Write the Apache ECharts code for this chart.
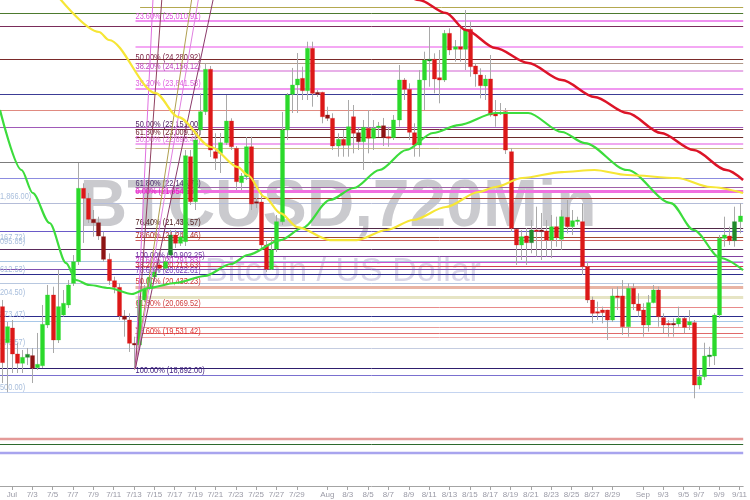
<!DOCTYPE html>
<html><head><meta charset="utf-8">
<script src="https://cdn.jsdelivr.net/npm/echarts@6/dist/echarts.min.js"></script>
<style>html,body{margin:0;padding:0;background:#fff}#c{width:750px;height:500px}</style>
</head><body><div id="c"></div>
<script>
// ---------- DATA ----------
const categories = ['6/30 0h','6/30 12h',
'7/1 0h','7/1 12h','7/2 0h','7/2 12h','7/3 0h','7/3 12h','7/4 0h','7/4 12h','7/5 0h','7/5 12h','7/6 0h','7/6 12h','7/7 0h','7/7 12h','7/8 0h','7/8 12h','7/9 0h','7/9 12h','7/10 0h','7/10 12h','7/11 0h','7/11 12h','7/12 0h','7/12 12h','7/13 0h','7/13 12h','7/14 0h','7/14 12h','7/15 0h','7/15 12h','7/16 0h','7/16 12h','7/17 0h','7/17 12h','7/18 0h','7/18 12h','7/19 0h','7/19 12h','7/20 0h','7/20 12h','7/21 0h','7/21 12h','7/22 0h','7/22 12h','7/23 0h','7/23 12h','7/24 0h','7/24 12h','7/25 0h','7/25 12h','7/26 0h','7/26 12h','7/27 0h','7/27 12h','7/28 0h','7/28 12h','7/29 0h','7/29 12h','7/30 0h','7/30 12h','7/31 0h','7/31 12h',
'8/1 0h','8/1 12h','8/2 0h','8/2 12h','8/3 0h','8/3 12h','8/4 0h','8/4 12h','8/5 0h','8/5 12h','8/6 0h','8/6 12h','8/7 0h','8/7 12h','8/8 0h','8/8 12h','8/9 0h','8/9 12h','8/10 0h','8/10 12h','8/11 0h','8/11 12h','8/12 0h','8/12 12h','8/13 0h','8/13 12h','8/14 0h','8/14 12h','8/15 0h','8/15 12h','8/16 0h','8/16 12h','8/17 0h','8/17 12h','8/18 0h','8/18 12h','8/19 0h','8/19 12h','8/20 0h','8/20 12h','8/21 0h','8/21 12h','8/22 0h','8/22 12h','8/23 0h','8/23 12h','8/24 0h','8/24 12h','8/25 0h','8/25 12h','8/26 0h','8/26 12h','8/27 0h','8/27 12h','8/28 0h','8/28 12h','8/29 0h','8/29 12h','8/30 0h','8/30 12h','8/31 0h','8/31 12h',
'9/1 0h','9/1 12h','9/2 0h','9/2 12h','9/3 0h','9/3 12h','9/4 0h','9/4 12h','9/5 0h','9/5 12h','9/6 0h','9/7 0h','9/7 12h','9/8 0h','9/8 12h','9/9 0h','9/9 12h','9/10 0h','9/10 12h','9/11 0h'];

// [open, close, low, high]
const ohlc = [
[19983,19019,18668,20098],[19363,19638,18510,19719],[19615,19168,18840,19753],[19168,19008,18840,19357],[19008,19111,18840,19237],
[19111,19162,18978,19271],[19140,18921,18668,19271],[18932,18990,18892,19530],[18966,19679,18926,20012],[19667,20184,19615,20356],
[20184,19409,19185,20327],[19409,19983,19357,20614],[19839,20041,19810,20270],[20012,20356,19960,20442],[20385,20757,20339,20872],
[20757,22021,20700,22456],[22021,21848,21080,22107],[21848,21487,21423,21940],[21487,21428,21188,21647],[21428,21200,21131,21532],
[21188,20798,20757,21273],[20798,20430,20356,20901],[20430,20316,20213,20499],[20316,19822,19753,20385],[19822,19765,19466,19925],
[19753,19352,19203,19868],[19352,19323,18892,19466],[19323,20098,19237,20167],[20098,20287,20063,20356],[20321,20493,20270,20580],
[20493,20580,20442,20683],[20700,20643,20580,20786],[20643,20757,20580,20855],[20872,21217,20821,21303],[21217,21074,20993,21303],
[21074,21183,21027,21269],[21102,22582,21027,22680],[22565,21790,21733,22680],[21790,22852,21647,23025],[23025,23340,22939,23656],
[23340,24070,23283,24173],[24070,22680,22560,24127],[22651,22537,22336,22968],[22623,22806,22284,22973],[22806,23179,22766,23627],
[23179,22737,22680,23226],[22709,22135,21992,22749],[22118,22233,21992,22284],[22221,22737,22164,22904],[22737,21750,21647,22909],
[21790,21763,21681,21854],[21785,21045,20958,21957],[21045,20626,20580,21131],[20626,20958,20614,21166],[20976,21446,20924,21561],
[21446,23025,21389,23335],[23025,23627,22852,23661],[23639,23800,23317,24093],[23800,23903,23317,24350],[23914,23701,23541,24115],
[23701,24431,23541,24545],[24431,23656,23426,24545],[23673,23639,23593,23713],[23673,23253,23140,23684],[23283,23226,23179,23426],
[23226,22749,22680,23312],[22749,22864,22565,22968],[22864,22761,22565,23025],[22761,23081,22565,23541],[23253,22968,22623,23455],
[22978,22823,22680,23059],[22823,23071,22336,23197],[23054,22882,22623,23369],[22882,23054,22680,23197],[23064,23093,22904,23163],
[23098,22892,22749,23232],[22909,22892,22737,23081],[22892,23197,22852,23283],[23197,23886,23081,24144],[23886,23725,23541,23920],
[23725,22985,22852,23829],[22978,22766,22565,23140],[22766,23886,22565,24058],[23886,24230,23369,24373],[24213,24242,23770,24803],
[24242,23903,23656,24345],[23925,23886,23484,24402],[23886,24689,23851,24746],[24689,24402,24316,24775],[24414,24459,24201,24574],
[24459,24414,24201,24775],[24414,24758,24058,25091],[24758,24115,23942,24889],[24127,23989,23770,24173],[23971,23787,23570,24087],
[23782,23903,23541,23971],[23903,23283,23254,24316],[23300,23266,23081,23541],[23309,23326,23283,23489],[23340,22680,22611,23403],
[22651,21332,21269,22715],[21315,21045,20700,21320],[21045,21188,20786,21303],[21200,21084,20700,21337],[21084,21303,20901,21475],
[21303,21286,20843,21704],[21303,21274,20786,21596],[21286,21131,20843,21475],[21131,21360,20820,21561],[21360,21170,21015,21532],
[21143,21532,20958,21647],[21521,21360,21246,21819],[21360,21463,21217,21647],[21458,21475,21389,21532],[21446,20671,20528,21762],
[20671,20098,20046,20757],[20098,19868,19696,20155],[19896,19879,19753,20069],[19925,19879,19696,19983],[19925,19753,19409,19930],
[19753,20167,19719,20299],[20167,20155,19925,20327],[20167,19638,19495,20441],[19638,20299,19466,20385],[20299,20029,19925,20385],
[20029,19913,19810,20213],[19925,19667,19466,20041],[19667,20052,19552,20184],[20052,20270,20041,20356],[20270,19810,19638,20327],
[19793,19667,19524,19868],[19696,19667,19466,19753],[19696,19667,19466,19782],[19684,19782,19638,19983],[19782,19627,19524,19810],
[19667,19724,19581,19925],[19707,18634,18405,19753],[18634,18777,18560,18892],[18777,19133,18720,19362],[19122,19151,18949,19293],
[19133,19839,18978,19874],[19839,21160,19788,21217],[21160,21217,21015,21532],[21200,21119,21045,21360],[21119,21446,21015,21704],
[21446,21544,21246,21762]
];
const darkCandles = [5,6,18,19,20,24,26,33,50,62,64,70,75,84,104,106,132,139,144];

// moving averages: [candle position, price]
const maGreen = [[-0.33,23369],[3.9,22336],[6.1,21940],[9.41,21423],[12.66,20734],[14.6,20442],[17.2,20356],[21.1,20304],[25.57,20201],[28.88,20304],[34.08,20390],[39.92,20511],[45.04,20717],[48.35,20872],[54.78,21130],[59.1,21337],[64.52,21819],[69.2,22026],[74.25,22336],[79.5,22680],[84.77,22973],[89.83,23110],[97.04,23317],[103.47,23317],[110.09,22990],[114.57,22800],[122.94,22336],[131.5,21767],[135.99,21303],[141.25,20821],[145.7,20614]];
const maYellow = [[10.38,25400],[19.14,24712],[21.09,24574],[30.24,23661],[34.72,23248],[41.15,22732],[46.4,22387],[48.35,22250],[51.67,21871],[54.78,21595],[58.09,21354],[64.52,21130],[69.78,21130],[75.62,21303],[80.88,21475],[87.3,21699],[93.73,21957],[97.04,22043],[102.3,22198],[110.09,22301],[116.5,22336],[122.94,22250],[132.68,22198],[139.3,22043],[145.7,21940]];
const maRed = [[79.5,25349],[82.05,25263],[87.3,25039],[91.2,24746],[97.04,24436],[103.47,24178],[110.09,23885],[116.5,23593],[122.94,23317],[129.56,22973],[135.99,22680],[142.4,22336],[145.7,22164]];

// fibonacci fan: origin and end points
const fanOrigin = [26.25,18909];
const fanEnds = [[29.82,25435],[31.6,25435],[37.62,25435],[38.97,25435],[41.95,25435]];

// full-width horizontal levels
const fullLevels = [25034,24815,24242,23639,23369,23081,22468,22193,21762,21285,20975,20774,20631,20540,20385,19827,19730,19266,18921,18801,18508,17709,17613,17468];
// fibonacci retracement levels (start at the 7/13 low)
const fibStart = 26.3;
const fibLevels = [25147,24901,24459,24173,24045,23730,23036,22909,22788,22709,22048,21969,21859,21332,21187,21125,20863,20752,20691,20326,20154,19972,19627,19524,19455];

const fibLabelText = ['23.60% (25,010.91)','50.00% (24,280.92)','38.20% (24,156.12)','38.20% (23,841.58)','50.00% (23,151.00)','61.80% (23,009.13)','50.00% (22,898.45)','61.80% (22,145.78)','0.00% (21,954.58)','76.40% (21,435.57)','78.60% (21,248.46)','100.00% (20,902.25)','23.60% (20,791.83)','38.20% (20,713.63)','78.60% (20,622.61)','50.00% (20,433.23)','61.80% (20,069.52)','78.60% (19,531.42)','100.00% (18,892.00)'];
const fibLabelPrice = [24987,24281,24126,23834,23128,22990,22870,22107,21962,21428,21204,20872,20774,20688,20602,20412,20041,19564,18880];

const sideLabelText = ['1,866.00)','167.72)','095.85)','612.53)','204.50)','873.47)','373.57)','500.00)'];
const sideLabelPrice = [21876,21182,21101,20631,20230,19856,19362,18594];

const tickCats = ['7/1 0h','7/3 0h','7/5 0h','7/7 0h','7/9 0h','7/11 0h','7/13 0h','7/15 0h','7/17 0h','7/19 0h','7/21 0h','7/23 0h','7/25 0h','7/27 0h','7/29 0h','8/1 0h','8/3 0h','8/5 0h','8/7 0h','8/9 0h','8/11 0h','8/13 0h','8/15 0h','8/17 0h','8/19 0h','8/21 0h','8/23 0h','8/25 0h','8/27 0h','8/29 0h','9/1 0h','9/3 0h','9/5 0h','9/7 0h','9/9 0h','9/11 0h'];
const tickText = ['Jul','7/3','7/5','7/7','7/9','7/11','7/13','7/15','7/17','7/19','7/21','7/23','7/25','7/27','7/29','Aug','8/3','8/5','8/7','8/9','8/11','8/13','8/15','8/17','8/19','8/21','8/23','8/25','8/27','8/29','Sep','9/3','9/5','9/7','9/9','9/11'];

// ---------- STYLE ----------
const FONT = "'Liberation Sans',Arial,sans-serif";
const fullColors = ['#4d7a2e','#7a2c5a','#7a2a2a','#3c3c96','#e08a80','#a05ab8','#7c7c7c','#8c8ce0','#b4bcd8','#6a5ac8','#5a2a5a','#a8c4e0','#8050b0','#2c2c8c','#b8c8e0','#2c2c8c','#a8c8e8','#c4cce0','#2e1e6e','#7a70d0','#c4d4f0','#e49a98','#2e6a2e','#a8a4ee'];
const fullWidths = [1,1,1,1,1,1,1,1,1,1,1,1,1,1,1,1,1,1,1,1,1,2.5,1,2.5];
const fibColors = ['#b4a850','#f090f0','#f4a8f4','#b09888','#e8b0e8','#f098f0','#7a2a3a','#6a2a2a','#f0a8f0','#c8b88a','#a060a8','#f070e0','#a03838','#502848','#a04830','#d06060','#8040a0','#d050d0','#d04050','#e8b4a4','#e6e4c4','#e88a8a','#e89a98','#e06a6a','#f0a8a8'];
const fibWidths = [1,2,2,1,2,2,1,1,2,1,1,3,1,1,1,1,1,1,1,3,3,1,1,1,1];
const fibLabelColors = ['#e050e0','#7a2040','#c040c0','#e060e0','#502060','#702030','#e070e0','#503070','#e020c0','#502020','#b03030','#7030a0','#d040d0','#c03040','#8040c0','#d03030','#d04040','#e03030','#402080'];
const fanColors = ['#e070e0','#904060','#b0a050','#e080e0','#8a3a6a'];

const X_MIN = -0.331, X_MAX = 145.725;
const tickIdx = tickCats.map(c => categories.indexOf(c));
const tickMap = {}; tickIdx.forEach((v,k)=>{ tickMap[v] = tickText[k]; });
const darkSet = new Set(darkCandles);

function hlineRender(colors, widths) {
  return function (params, api) {
    const i = params.dataIndex;
    const a = api.coord([api.value(0), api.value(2)]);
    const b = api.coord([api.value(1), api.value(2)]);
    const w = widths[i];
    const y = w % 2 === 1 ? Math.round(a[1]) + 0.5 : Math.round(a[1]);
    return { type: 'line', shape: { x1: a[0], y1: y, x2: b[0], y2: y }, style: { stroke: colors[i], lineWidth: w } };
  };
}
function textRender(texts, colors, fallbackColor) {
  return function (params, api) {
    const i = params.dataIndex;
    const p = api.coord([api.value(0), api.value(1)]);
    return { type: 'text', x: p[0], y: p[1], scaleX: 0.78, scaleY: 1,
      style: { text: texts[i], fill: colors ? colors[i] : fallbackColor, font: '9.5px ' + FONT, align: 'left', verticalAlign: 'middle' } };
  };
}

const option = {
  animation: false,
  backgroundColor: '#ffffff',
  grid: { left: 0, right: 0, top: 0, bottom: 14 },
  xAxis: {
    type: 'value', min: X_MIN, max: X_MAX,
    axisLine: { show: true, onZero: false, lineStyle: { color: '#a4a4a4', width: 1 } },
    axisTick: { show: true, customValues: tickIdx, length: 4, lineStyle: { color: '#a4a4a4' } },
    axisLabel: { show: true, customValues: tickIdx, formatter: v => tickMap[v] || '', color: '#9a9aa6', fontSize: 8, margin: 5, fontFamily: FONT },
    splitLine: { show: false }
  },
  yAxis: { type: 'value', min: 16895, max: 25263, show: false, splitLine: { show: false } },
  graphic: [
    { type: 'text', z: 0, x: 338, y: 208, style: { text: 'BTCUSD,720Min', font: 'bold 66px "Liberation Sans", Arial, sans-serif', fill: '#cacace', align: 'center', verticalAlign: 'middle', textAlign: 'center', textVerticalAlign: 'middle' } },
    { type: 'text', z: 0, x: 343, y: 272, style: { text: 'Bitcoin / US Dollar', font: '34px "Liberation Sans", Arial, sans-serif', fill: '#dad6e8', align: 'center', verticalAlign: 'middle', textAlign: 'center', textVerticalAlign: 'middle' } }
  ],
  series: [
    { type: 'custom', name: 'levels', z: 1, silent: true, clip: true,
      data: fullLevels.map(p => [X_MIN, X_MAX, p]), encode: { x: [0, 1], y: 2 },
      renderItem: hlineRender(fullColors, fullWidths) },
    { type: 'custom', name: 'fib', z: 1, silent: true, clip: true,
      data: fibLevels.map((p, k) => [k === 0 ? fibStart + 0.9 : fibStart, X_MAX, p]), encode: { x: [0, 1], y: 2 },
      renderItem: hlineRender(fibColors, fibWidths) },
    { type: 'custom', name: 'fib labels', z: 2, silent: true, clip: false,
      data: fibLabelPrice.map(p => [fibStart, p]), encode: { x: 0, y: 1 },
      renderItem: textRender(fibLabelText, fibLabelColors) },
    { type: 'custom', name: 'price labels', z: 2, silent: true, clip: false,
      data: sideLabelPrice.map(p => [X_MIN, p]), encode: { x: 0, y: 1 },
      renderItem: textRender(sideLabelText, null, '#a8bedc') },
    { type: 'custom', name: 'BTCUSD', z: 3, clip: true,
      data: ohlc.map((d, i) => [i, d[0], d[1], d[2], d[3]]), encode: { x: 0, y: [1, 2, 3, 4] },
      renderItem: function (params, api) {
        const i = api.value(0), o = api.value(1), c = api.value(2), l = api.value(3), h = api.value(4);
        const pO = api.coord([i, o]), pC = api.coord([i, c]), pL = api.coord([i, l]), pH = api.coord([i, h]);
        const bw = api.size([1, 0])[0] * 0.8;
        const up = c >= o;
        const dark = darkSet.has(params.dataIndex);
        const col = up ? (dark ? '#1f8a2a' : '#2bd92b') : (dark ? '#8e1414' : '#dc1818');
        const xc = Math.round(pO[0]) + 0.5;
        const top = Math.min(pO[1], pC[1]);
        const hgt = Math.max(1.5, Math.abs(pO[1] - pC[1]));
        return { type: 'group', children: [
          { type: 'line', shape: { x1: xc, y1: pH[1], x2: xc, y2: pL[1] }, style: { stroke: '#a9a9a9', lineWidth: 1 } },
          { type: 'rect', shape: { x: xc - bw / 2, y: top, width: bw, height: hgt }, style: { fill: col, stroke: col, lineWidth: 0.3 } }
        ] };
      } },
    ...fanEnds.map((e, k) => ({ type: 'line', z: 4, silent: true, symbol: 'none', clip: true,
      data: [fanOrigin, e], lineStyle: { color: fanColors[k], width: 1 } })),
    { type: 'line', name: 'MA green', z: 5, symbol: 'none', smooth: 0.3, smoothMonotone: 'x', clip: true, data: maGreen, lineStyle: { color: '#3cdc3c', width: 2.2 } },
    { type: 'line', name: 'MA yellow', z: 5, symbol: 'none', smooth: 0.3, smoothMonotone: 'x', clip: true, data: maYellow, lineStyle: { color: '#f6e636', width: 2.2 } },
    { type: 'line', name: 'MA red', z: 5, symbol: 'none', smooth: 0.3, smoothMonotone: 'x', clip: true, data: maRed, lineStyle: { color: '#dc1428', width: 2.5 } }
  ]
};
const chart = echarts.init(document.getElementById('c'), null, { renderer: 'canvas' });
chart.setOption(option);
</script>
</body></html>
